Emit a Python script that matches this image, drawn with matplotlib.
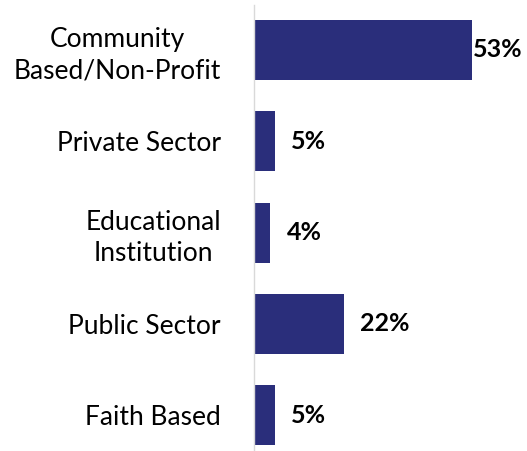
import matplotlib
matplotlib.use("Agg")
import matplotlib.pyplot as plt

categories = ["Community\nBased/Non-Profit", "Private Sector", "Educational\nInstitution", "Public Sector", "Faith Based"]
values = [53, 5, 4, 22, 5]
labels = ["53%", "5%", "4%", "22%", "5%"]

bar_color = "#2A2E7B"
font = "Lato"

fig = plt.figure(figsize=(5.27, 4.51), dpi=100)
ax = fig.add_axes([254/527, 0, 273/527, 446/451])

y = list(range(len(categories)))
ax.barh(y, values, height=0.656, color=bar_color, zorder=2)
ax.set_xlim(0, 66.4)
ax.set_ylim(4.39, -0.49)

ax.set_yticks(y)
ax.set_yticklabels(categories, fontsize=19, family=font, ha="right",
                   multialignment="center", linespacing=1.3)
ax.tick_params(axis="y", length=0, pad=33 * 0.72)
ax.set_xticks([])

for s in ["top", "right", "bottom"]:
    ax.spines[s].set_visible(False)
ax.spines["left"].set_color("#D9D9D9")
ax.spines["left"].set_linewidth(1.0)

vmax = max(values)
for yi, v, lab in zip(y, values, labels):
    off = 1 if v == vmax else 16
    ax.annotate(lab, (v, yi), xytext=(off * 0.72, 0), textcoords="offset points",
                ha="left", va="center", fontsize=18, fontweight="bold", family=font, color="black")

fig.savefig("out.png", dpi=100)
